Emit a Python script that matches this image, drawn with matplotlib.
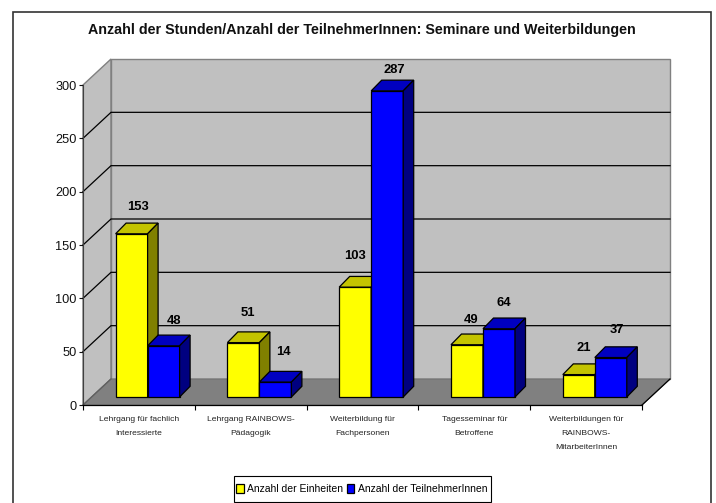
import matplotlib
matplotlib.use("Agg")
import matplotlib.pyplot as plt
from matplotlib.patches import Polygon, Rectangle

categories = ["Lehrgang für fachlich\nInteressierte", "Lehrgang RAINBOWS-\nPädagogik",
              "Weiterbildung für\nFachpersonen", "Tagesseminar für\nBetroffene",
              "Weiterbildungen für\nRAINBOWS-\nMitarbeiterInnen"]
einheiten = [153, 51, 103, 49, 21]
teilnehmer = [48, 14, 287, 64, 37]
yticks = [0, 50, 100, 150, 200, 250, 300]

W, H = 716, 503
plt.rcParams['font.family'] = ['Liberation Sans', 'DejaVu Sans']

fig = plt.figure(figsize=(W / 100, H / 100), dpi=100)
ax = fig.add_axes([83 / W, 1 - 405 / H, 559 / W, 320 / H])
ax.set_xlim(0, 5)
ax.set_ylim(0, 300)
ax.patch.set_visible(False)

# pixel -> data units
px = 5 / 559
py = 300 / 320

wall_dx, wall_dy = 28 * px, 26 * py    # depth of the chart box
off_dx, off_dy = 8.6 * px, 8 * py      # bars stand a bit behind the front edge
bar_dx, bar_dy = 10.5 * px, 10.7 * py  # depth of a bar
bar_w = 32 * px
bar_start = 24 * px


def poly(pts, fc, ec='none', lw=0, z=1):
    ax.add_patch(Polygon(pts, closed=True, facecolor=fc, edgecolor=ec, linewidth=lw,
                         zorder=z, clip_on=False, joinstyle='miter'))


# walls and floor
wall = '#C0C0C0'
edge = '#808080'
poly([(0, 0), (wall_dx, wall_dy), (wall_dx, 300 + wall_dy), (0, 300)], wall, edge, 1)
poly([(wall_dx, wall_dy), (5 + wall_dx, wall_dy), (5 + wall_dx, 300 + wall_dy),
      (wall_dx, 300 + wall_dy)], wall, edge, 1)
poly([(0, 0), (5, 0), (5 + wall_dx, wall_dy), (wall_dx, wall_dy)], '#808080', '#707070', 0.8)
ax.plot([5, 5 + wall_dx], [0, wall_dy], color='black', lw=0.9, zorder=1.5, clip_on=False)
ax.plot([0, wall_dx], [0, wall_dy], color='#606060', lw=0.9, zorder=1.5, clip_on=False)

for v in yticks[1:-1]:
    ax.plot([0, wall_dx, 5 + wall_dx], [v, v + wall_dy, v + wall_dy], color='black', lw=0.9,
            zorder=2, clip_on=False, solid_joinstyle='miter')


def bar3d(x, v, face, top, side):
    y0 = off_dy
    y1 = off_dy + v
    ax.bar(x, v, bar_w, bottom=y0, align='edge', color=face, edgecolor='black', linewidth=0.9,
           zorder=3, clip_on=False)
    poly([(x, y1), (x + bar_dx, y1 + bar_dy), (x + bar_w + bar_dx, y1 + bar_dy), (x + bar_w, y1)],
         top, 'black', 0.9, 3)
    poly([(x + bar_w, y0), (x + bar_w + bar_dx, y0 + bar_dy), (x + bar_w + bar_dx, y1 + bar_dy),
          (x + bar_w, y1)], side, 'black', 0.9, 3)


# (dx, dy) of the value labels from the top of the front face, in pixels
lab_y = [(6, 27), (5, 30), (0, 31), (4, 25), (5, 27)]
lab_b = [(10, 25), (8, 30), (7, 21), (5, 26), (6, 28)]

for i in range(5):
    x1 = i + bar_start + off_dx
    x2 = x1 + bar_w
    bar3d(x1, einheiten[i], '#FFFF00', '#C4C400', '#808000')
    bar3d(x2, teilnehmer[i], '#0000FF', '#0000C0', '#000080')
    ax.annotate(str(einheiten[i]), (x1 + bar_w / 2, off_dy + einheiten[i]),
                xytext=(lab_y[i][0] * 0.72, lab_y[i][1] * 0.72), textcoords='offset points',
                ha='center', va='center', fontsize=9.4, fontweight='bold', zorder=5, annotation_clip=False)
    ax.annotate(str(teilnehmer[i]), (x2 + bar_w / 2, off_dy + teilnehmer[i]),
                xytext=(lab_b[i][0] * 0.72, lab_b[i][1] * 0.72), textcoords='offset points',
                ha='center', va='center', fontsize=9.4, fontweight='bold', zorder=5, annotation_clip=False)

# axes
for s in ['top', 'right']:
    ax.spines[s].set_visible(False)
ax.spines['left'].set_color('#404040')
ax.spines['left'].set_linewidth(0.8)
ax.spines['bottom'].set_linewidth(0.9)
ax.set_yticks(yticks)
ax.tick_params(axis='y', length=3.2, width=0.8, pad=1.5, labelsize=9.2, colors='#111111')
ax.set_xticks(range(6))
ax.set_xticklabels([])
ax.tick_params(axis='x', which='major', length=3.6, width=0.8)
ax.set_xticks([i + 0.5 for i in range(5)], minor=True)
ax.set_xticklabels(categories, minor=True, fontsize=6.1, linespacing=2.35, color='#222222', va='top')
ax.tick_params(axis='x', which='minor', length=0, pad=8)

handles = [Rectangle((0, 0), 1, 1, facecolor='#FFFF00', edgecolor='black', linewidth=0.9),
           Rectangle((0, 0), 1, 1, facecolor='#0000FF', edgecolor='black', linewidth=0.9)]
# the box is drawn by hand, the legend's own one cannot have different side and top paddings
fig.add_artist(Rectangle((234 / W, 1 - 502 / H), 257 / W, 26 / H, transform=fig.transFigure,
                         facecolor='white', edgecolor='black', linewidth=0.8))
leg = fig.legend(handles, ["Anzahl der Einheiten", "Anzahl der TeilnehmerInnen"], ncol=2,
                 loc='center', bbox_to_anchor=(362 / W, 1 - 489 / H), fontsize=7.5, frameon=False,
                 handlelength=0.7, handleheight=0.95, handletextpad=0.35,
                 columnspacing=0.35, borderpad=0, borderaxespad=0)

# outer frame, open at the bottom edge of the picture
fig.add_artist(Rectangle((13 / W, -2 / H), 698 / W, (503 - 12 + 2) / H, transform=fig.transFigure,
                         facecolor='none', edgecolor='#333333', linewidth=1.2, zorder=-1))

fig.text(362 / W, 1 - 30 / H, "Anzahl der Stunden/Anzahl der TeilnehmerInnen: Seminare und Weiterbildungen",
         ha='center', va='center', fontsize=10.3, fontweight='bold', color='#111111')

fig.savefig("out.png", dpi=100)
